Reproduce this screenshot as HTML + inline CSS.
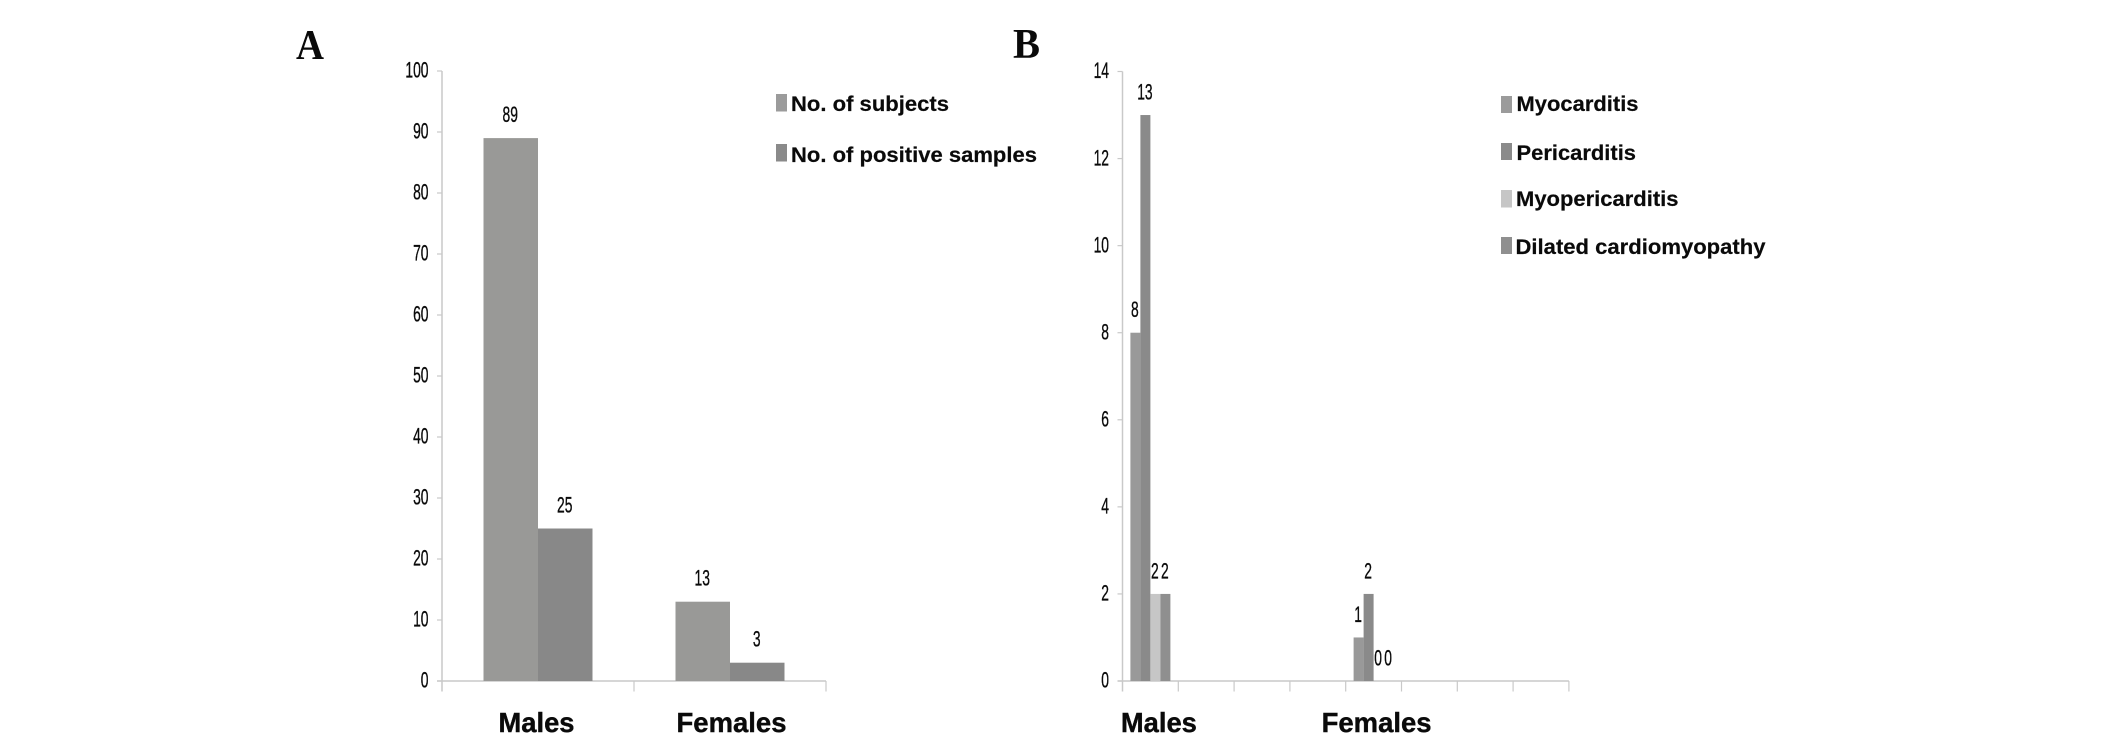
<!DOCTYPE html>
<html lang="en">
<head>
<meta charset="utf-8">
<title>Subjects and positive samples by sex</title>
<style>
html,body{margin:0;padding:0;background:#fff;width:2126px;height:741px;overflow:hidden}
svg{display:block}
.legend-text{font-family:"Liberation Sans",Arial,sans-serif;font-weight:bold;font-size:21px;fill:#0a0a0a;stroke:#0a0a0a;stroke-width:.2px}
.panel-letter{font-family:"Liberation Serif","Times New Roman",serif;font-weight:bold;font-size:42px;fill:#0a0a0a}
</style>
</head>
<body>
<svg id="figure" xmlns="http://www.w3.org/2000/svg" width="2126" height="741" viewBox="0 0 2126 741">
  <rect x="0" y="0" width="2126" height="741" fill="#ffffff"/>
  <text class="panel-letter" x="296" y="59" textLength="28" lengthAdjust="spacingAndGlyphs">A</text>
  <text class="panel-letter" x="1013" y="58" textLength="27" lengthAdjust="spacingAndGlyphs">B</text>

  <g>
    <rect x="776" y="94" width="11" height="17.5" fill="#9b9b9b"/>
    <text class="legend-text" x="791" y="111" textLength="158" lengthAdjust="spacingAndGlyphs">No. of subjects</text>
    <rect x="776" y="144" width="11" height="17.5" fill="#8a8a8a"/>
    <text class="legend-text" x="791" y="162" textLength="246" lengthAdjust="spacingAndGlyphs">No. of positive samples</text>
  </g>

  <g>
    <rect x="1501" y="96" width="11" height="17" fill="#9b9b9b"/>
    <text class="legend-text" x="1516.5" y="111" textLength="122" lengthAdjust="spacingAndGlyphs">Myocarditis</text>
    <rect x="1501" y="143" width="11" height="17" fill="#8a8a8a"/>
    <text class="legend-text" x="1516.5" y="160" textLength="119.5" lengthAdjust="spacingAndGlyphs">Pericarditis</text>
    <rect x="1501" y="190" width="11" height="17.5" fill="#c6c6c6"/>
    <text class="legend-text" x="1516" y="206" textLength="162.5" lengthAdjust="spacingAndGlyphs">Myopericarditis</text>
    <rect x="1501" y="237" width="11" height="17" fill="#8f8f8f"/>
    <text class="legend-text" x="1515.5" y="254" textLength="250" lengthAdjust="spacingAndGlyphs">Dilated cardiomyopathy</text>
  </g>
</svg>
<script>
// Chart A data
const categoriesA = ["Males", "Females"];
const subjects = [89, 13];
const positiveSamples = [25, 3];
const yTicksA = [0, 10, 20, 30, 40, 50, 60, 70, 80, 90, 100];

// Chart B data
const categoriesB = ["Males", "", "", "", "Females", "", "", ""];
const myocarditis = [8, null, null, null, 1, null, null, null];
const pericarditis = [13, null, null, null, 2, null, null, null];
const myopericarditis = [2, null, null, null, 0, null, null, null];
const dilatedCardiomyopathy = [2, null, null, null, 0, null, null, null];
const yTicksB = [0, 2, 4, 6, 8, 10, 12, 14];

const NS = 'http://www.w3.org/2000/svg';
const svg = document.getElementById('figure');
const AXIS_COLOR = '#c9c9c9';
const NARROW = 0.63;

function makeRect(parent, x, y, w, h, fill) {
  const el = document.createElementNS(NS, 'rect');
  el.setAttribute('x', x);
  el.setAttribute('y', y);
  el.setAttribute('width', w);
  el.setAttribute('height', h);
  el.setAttribute('fill', fill);
  parent.appendChild(el);
  return el;
}
function makeLine(parent, x1, y1, x2, y2, width) {
  const el = document.createElementNS(NS, 'line');
  el.setAttribute('x1', x1);
  el.setAttribute('y1', y1);
  el.setAttribute('x2', x2);
  el.setAttribute('y2', y2);
  el.setAttribute('stroke', AXIS_COLOR);
  el.setAttribute('stroke-width', width);
  parent.appendChild(el);
  return el;
}
function makeNarrowText(parent, x, y, str, anchor) {
  const el = document.createElementNS(NS, 'text');
  el.setAttribute('transform', 'translate(' + x + ' ' + y + ') scale(' + NARROW + ' 1)');
  el.setAttribute('font-family', '"Liberation Sans", Arial, sans-serif');
  el.setAttribute('font-size', '22');
  el.setAttribute('fill', '#0a0a0a');
  el.setAttribute('stroke', '#0a0a0a');
  el.setAttribute('stroke-width', '0.35');
  el.setAttribute('text-anchor', anchor);
  el.textContent = str;
  parent.appendChild(el);
  return el;
}
function makeCategoryText(parent, x, y, str, len) {
  const el = document.createElementNS(NS, 'text');
  el.setAttribute('x', x);
  el.setAttribute('y', y);
  el.setAttribute('font-family', '"Liberation Sans", Arial, sans-serif');
  el.setAttribute('font-weight', 'bold');
  el.setAttribute('font-size', '28');
  el.setAttribute('fill', '#0a0a0a');
  el.setAttribute('stroke', '#0a0a0a');
  el.setAttribute('stroke-width', '0.4');
  el.setAttribute('textLength', len);
  el.setAttribute('lengthAdjust', 'spacingAndGlyphs');
  el.textContent = str;
  parent.appendChild(el);
  return el;
}

function drawChart(cfg) {
  const g = document.createElementNS(NS, 'g');
  
  
  svg.appendChild(g);

  const yMax = cfg.yTicks[cfg.yTicks.length - 1];
  const yScale = v => cfg.y0 - (v / yMax) * (cfg.y0 - cfg.yTop);
  const slot = cfg.plotW / cfg.categories.length;
  const barX = (c, s) => cfg.x0 + c * slot + (slot - cfg.series.length * cfg.barW) / 2 + s * cfg.barW;

  const yAxis = makeLine(g, cfg.x0, yScale(yMax), cfg.x0, cfg.y0 + 10.5, 1.5);
  
  

  cfg.yTicks.forEach(t => {
    const y = yScale(t);
    const tick = makeLine(g, cfg.x0 - 5, y, cfg.x0, y, 1.2);
    
    
    const label = makeNarrowText(g, cfg.x0 - 13.5, y + 6.7, String(t), 'end');
    
    
  });

  const xAxis = makeLine(g, cfg.x0 - 5, cfg.y0, cfg.x0 + cfg.plotW, cfg.y0, 1.5);
  
  

  for (let i = 1; i <= cfg.categories.length; i++) {
    const tx = cfg.x0 + i * slot;
    const tick = makeLine(g, tx, cfg.y0, tx, cfg.y0 + 10.5, 1.2);
    
    
  }

  cfg.series.forEach((s, si) => {
    s.values.forEach((v, ci) => {
      if (v === null) return;
      const x = barX(ci, si);
      const bar = makeRect(g, x, yScale(v), cfg.barW, cfg.y0 - yScale(v), s.color);
      
      
      const label = makeNarrowText(g, x + cfg.barW / 2 - 0.5, yScale(v) - cfg.labelGap, String(v), 'middle');
      
      
    });
  });

  cfg.categories.forEach((c, i) => {
    if (!c) return;
    const len = cfg.labelWidth(c);
    const cx = cfg.x0 + (i + 0.5) * slot + cfg.labelShift[c];
    const label = makeCategoryText(g, cx - len / 2, 732, c, len);
    
    
  });
}

const catWidth = c => (c === 'Males' ? 76 : 110);

drawChart({
  name: 'chart-a',
  categories: categoriesA,
  yTicks: yTicksA,
  x0: 442, y0: 681, yTop: 71, plotW: 384, barW: 54.5, labelGap: 16,
  labelWidth: catWidth,
  labelShift: { Males: -1.5, Females: 1.5 },
  series: [
    { key: 'subjects', values: subjects, color: '#999997' },
    { key: 'positive-samples', values: positiveSamples, color: '#888888' }
  ]
});

drawChart({
  name: 'chart-b',
  categories: categoriesB,
  yTicks: yTicksB,
  x0: 1122.5, y0: 681, yTop: 71.5, plotW: 446.4, barW: 10, labelGap: 15.5,
  labelWidth: catWidth,
  labelShift: { Males: 8.5, Females: 3 },
  series: [
    { key: 'myocarditis', values: myocarditis, color: '#999999' },
    { key: 'pericarditis', values: pericarditis, color: '#8a8a8a' },
    { key: 'myopericarditis', values: myopericarditis, color: '#c6c6c6' },
    { key: 'dilated-cardiomyopathy', values: dilatedCardiomyopathy, color: '#8f8f8f' }
  ]
});
</script>
</body>
</html>
